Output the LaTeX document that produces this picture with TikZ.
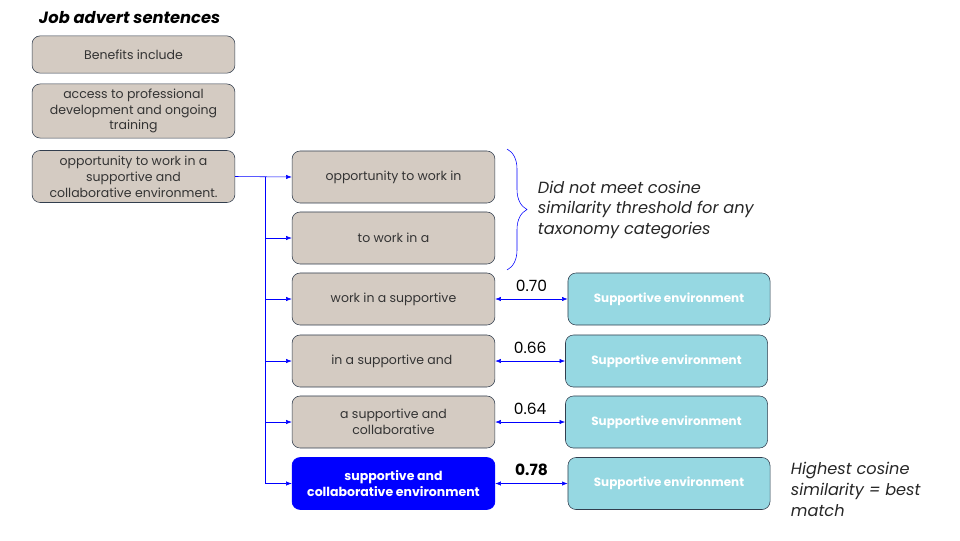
\documentclass[tikz,border=0pt]{standalone}
\usepackage{fontspec}
\setmainfont{Poppins}
\usetikzlibrary{arrows.meta, positioning, decorations.pathreplacing}
\definecolor{sandbox}{RGB}{212,203,194}
\definecolor{edgegray}{RGB}{50,62,78}
\definecolor{skillbox}{RGB}{150,216,226}
\definecolor{linkblue}{RGB}{0,0,255}
\tikzset{
	sent/.style={draw=edgegray, fill=sandbox, rounded corners=2mm, minimum width=5.07cm,
		minimum height=1.3cm, align=center, text=black!80, font=\fontsize{8.9}{11.3}\selectfont},
	skill/.style={draw=edgegray, fill=skillbox, rounded corners=2mm, minimum width=5.05cm,
		minimum height=1.3cm, text=white, font=\bfseries\fontsize{8.5}{10}\selectfont},
	link/.style={draw=linkblue, -{Latex[length=4pt,width=3pt]}},
	both/.style={draw=linkblue, {Latex[length=4pt,width=3pt]}-{Latex[length=4pt,width=3pt]}},
	note/.style={align=left, font=\itshape\fontsize{11.5}{14.9}\selectfont, text=black!85}
}
\begin{document}
\begin{tikzpicture}[x=0.025cm, y=-0.025cm]
		\useasboundingbox (0,0) rectangle (960,540);
		\node[anchor=west, font=\bfseries\itshape\fontsize{11.6}{13}\selectfont] (title) at (34,18) {Job advert sentences};
		% sentences
		\node[sent, minimum height=0.93cm] (l1) at (133.5,54.5) {Benefits include};
		\node[sent, minimum height=1.25cm] (l2) at (133.5,111) {access to professional\\development and ongoing\\training};
		\node[sent] (l3) at (133.5,176.5) {opportunity to work in a\\supportive and\\collaborative environment.};
		% n-grams
		\foreach \y/\name/\txt in {
			177/m1/{opportunity to work in},
			238/m2/{to work in a},
			299/m3/{work in a supportive},
			361/m4/{in a supportive and}
		}{
			\node[sent] (\name) at (393.5,\y) {\txt};
		}
		\node[sent] (m5) at (393.5,422) {a supportive and\\collaborative};
		\node[sent, draw=linkblue, fill=linkblue, text=white, font=\bfseries\fontsize{8.9}{11.3}\selectfont] (m6) at (393.5,483.5) {supportive and\\collaborative environment};
		% tree
		\coordinate (tt) at (265,177);
		\coordinate (tb) at (265,483.5);
		\draw[link] (l3.east) -- (m1.west);
		\draw[linkblue] (tt) -- (tb);
		\foreach \name in {m2, m3, m4, m5, m6}
		{\draw[link] (tt |- \name.west) -- (\name.west);}
		% taxonomy matches
		\foreach \y/\x/\name/\from/\val in {
			299/669/s3/m3/{0.70},
			361/666.5/s4/m4/{0.66},
			422/666.5/s5/m5/{0.64}
		}{
			\node[skill] (\name) at (\x,\y) {Supportive environment};
			\draw[both] (\from.east) -- (\name.west) node[midway, above=2pt, font=\fontsize{11}{13}\selectfont] {\val};
		}
		\node[skill] (s6) at (669,483.5) {Supportive environment};
		\draw[both] (m6.east) -- (s6.west) node[midway, above=2pt, font=\bfseries\fontsize{11}{13}\selectfont] {0.78};
		% notes
		\draw[linkblue, decorate, decoration={brace, amplitude=0.5cm, aspect=0.5}] (507,149) -- (507,270);
		\node[note, anchor=west] (miss) at (533,210) {Did not meet cosine\\similarity threshold for any\\taxonomy categories};
		\node[note, anchor=west] (best) at (786,489) {Highest cosine\\similarity = best\\match};
	\end{tikzpicture}
\end{document}
